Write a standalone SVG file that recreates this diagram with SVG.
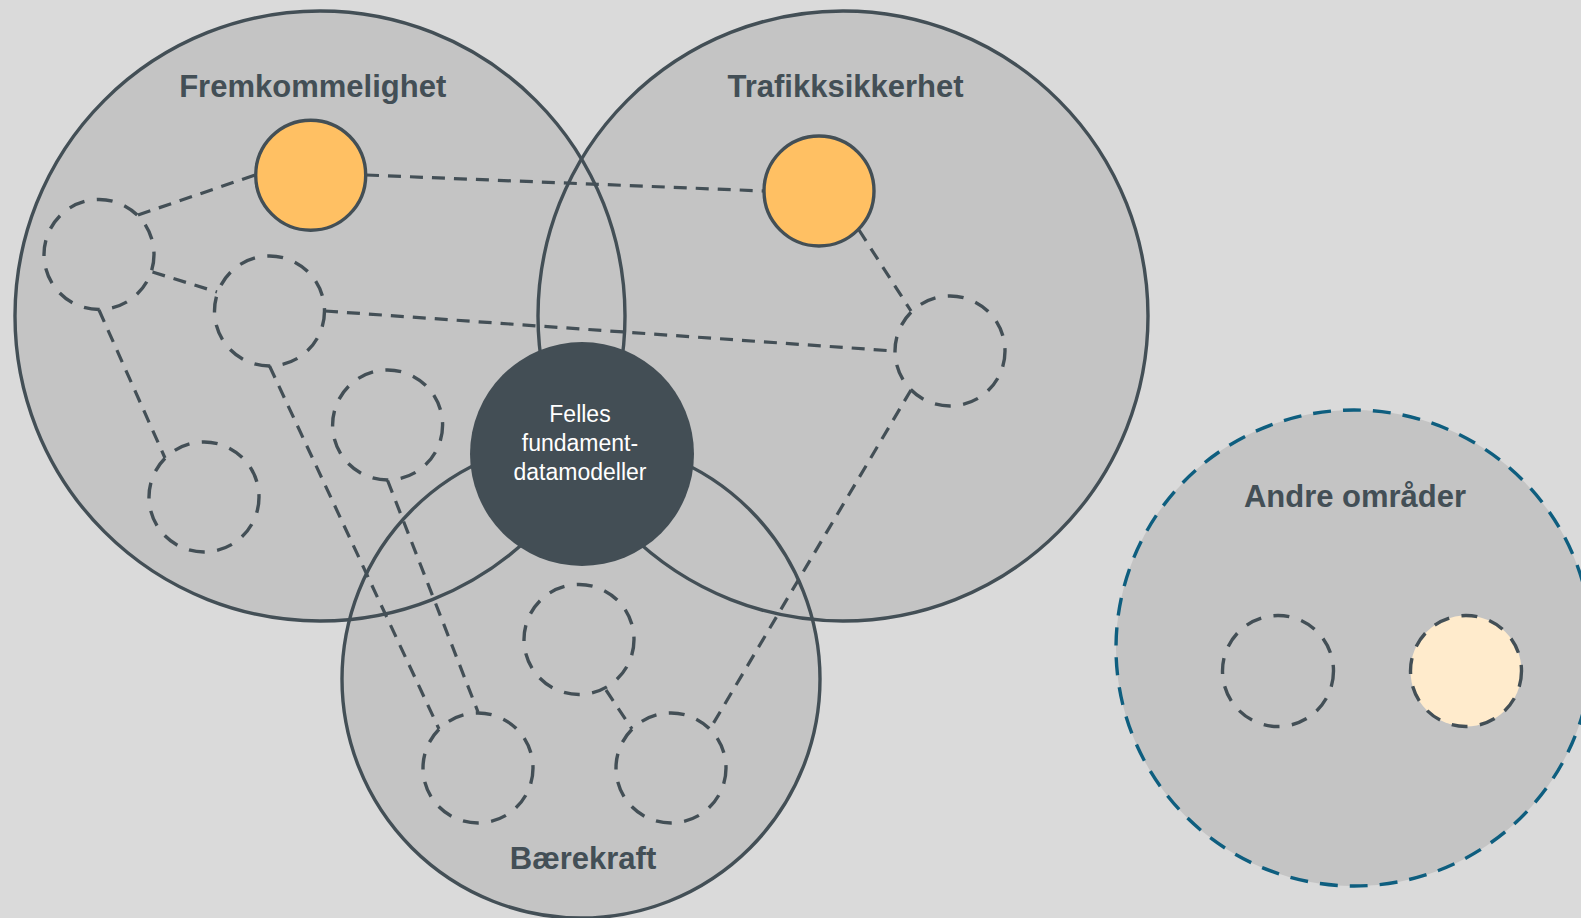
<svg xmlns="http://www.w3.org/2000/svg" width="1581" height="918" viewBox="0 0 1581 918">
<style>
.bigfill{fill:#c4c4c4;stroke:none}
.bigstroke{fill:none;stroke:#434f56;stroke-width:3.4}
.title{font-family:"Liberation Sans",Arial,sans-serif;font-weight:bold;font-size:31px;fill:#434f56;text-anchor:middle}
.ctext{font-family:"Liberation Sans",Arial,sans-serif;font-size:23px;fill:#ffffff;text-anchor:middle}
.sub{fill:none;stroke:#434f56;stroke-width:3.4;stroke-dasharray:16 12.5}
.key{fill:#ffc063;stroke:#434f56;stroke-width:3.4}
.conn{fill:none;stroke:#434f56;stroke-width:3.2;stroke-dasharray:13 9}
</style>
<rect x="0" y="0" width="1581" height="918" fill="#dadada"/>
<g id="area-fills">
<circle class="bigfill" cx="320" cy="316" r="305"/>
<circle class="bigfill" cx="843" cy="316" r="305"/>
<circle class="bigfill" cx="581" cy="679" r="239"/>
<circle class="bigfill" cx="1354" cy="648" r="238"/>
</g>
<g id="fremkommelighet">
<circle class="bigstroke" cx="320" cy="316" r="305"/>
<text class="title" x="312.7" y="97">Fremkommelighet</text>
</g>
<g id="trafikksikkerhet">
<circle class="bigstroke" cx="843" cy="316" r="305"/>
<text class="title" x="845.5" y="97">Trafikksikkerhet</text>
</g>
<g id="baerekraft">
<circle class="bigstroke" cx="581" cy="679" r="239"/>
<text class="title" x="583" y="869">Bærekraft</text>
</g>
<g id="andre-omrader">
<circle cx="1354" cy="648" r="238" fill="none" stroke="#0e5e7f" stroke-width="3.4" stroke-dasharray="18 12"/>
<text class="title" x="1355" y="506.5">Andre områder</text>
</g>
<g id="connectors">
<line class="conn" x1="138" y1="215" x2="255" y2="175"/>
<line class="conn" x1="366" y1="175" x2="764" y2="191"/>
<line class="conn" x1="859" y1="230" x2="911" y2="311"/>
<line class="conn" x1="152.5" y1="272" x2="217" y2="292"/>
<line class="conn" x1="325" y1="311" x2="894" y2="351"/>
<line class="conn" x1="99" y1="310" x2="165" y2="458"/>
<line class="conn" x1="269.5" y1="366" x2="439" y2="729"/>
<line class="conn" x1="387.6" y1="480.5" x2="478" y2="712"/>
<line class="conn" x1="606" y1="690" x2="632" y2="729"/>
<line class="conn" x1="911" y1="390" x2="710" y2="729"/>
</g>
<g id="node-f-key"><circle class="key" cx="310.7" cy="175.2" r="55"/></g>
<g id="node-t-key"><circle class="key" cx="819" cy="191" r="55"/></g>
<g id="node-f1"><circle class="sub" cx="99" cy="254.5" r="55"/></g>
<g id="node-f2"><circle class="sub" cx="269.5" cy="311" r="55"/></g>
<g id="node-f3"><circle class="sub" cx="387.6" cy="425" r="55"/></g>
<g id="node-f4"><circle class="sub" cx="204" cy="497" r="55"/></g>
<g id="node-t1"><circle class="sub" cx="950" cy="351" r="55"/></g>
<g id="node-b1"><circle class="sub" cx="579" cy="639.5" r="55"/></g>
<g id="node-b2"><circle class="sub" cx="478" cy="768" r="55"/></g>
<g id="node-b3"><circle class="sub" cx="671" cy="768" r="55"/></g>
<g id="node-a1"><circle class="sub" cx="1278" cy="671" r="55.5"/></g>
<g id="node-a2"><circle class="sub" cx="1466" cy="671" r="55.5" style="fill:#ffebcc"/></g>
<g id="felles">
<circle cx="582" cy="454" r="112" fill="#434e55"/>
<text class="ctext" x="580" y="421.5">Felles</text>
<text class="ctext" x="580" y="450.5">fundament-</text>
<text class="ctext" x="580" y="479.5">datamodeller</text>
</g>
</svg>
